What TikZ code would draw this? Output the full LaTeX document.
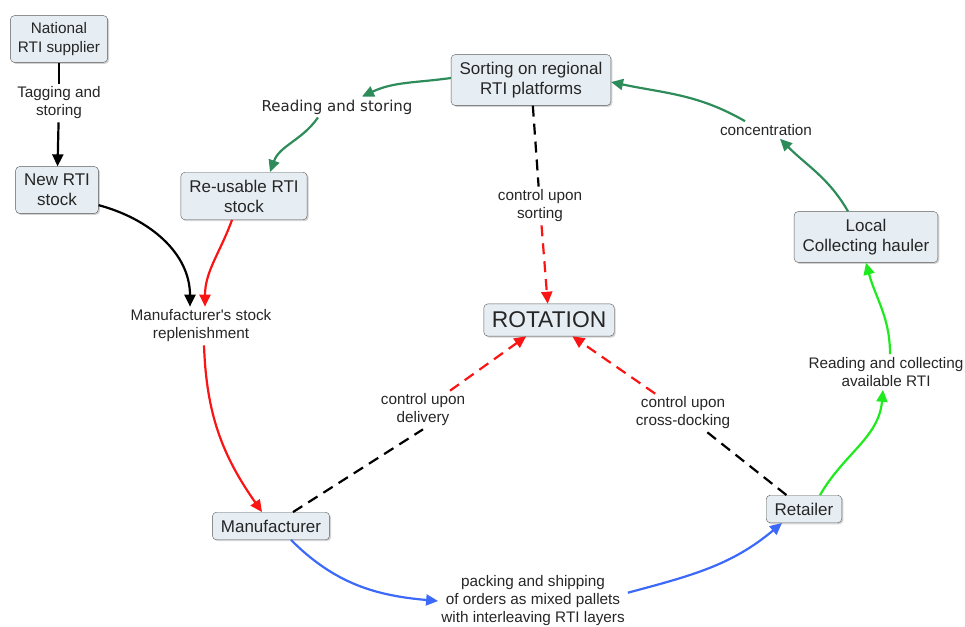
\documentclass[tikz,border=0pt]{standalone}
\usepackage{fontspec}
\setmainfont{Liberation Sans}
\newfontfamily\dejavu{DejaVu Sans}
\usetikzlibrary{arrows.meta,shadows}

\definecolor{boxfill}{RGB}{231,238,243}
\definecolor{cmapgreen}{RGB}{46,140,90}
\definecolor{litegreen}{RGB}{30,235,30}
\definecolor{cmapblue}{RGB}{60,105,250}
\definecolor{cmapred}{RGB}{250,20,20}
\newcommand{\lw}{2.2pt}

\begin{document}
\begin{tikzpicture}[x=1pt, y=1pt,
    concept/.style={draw=black!65, fill=boxfill, rounded corners=4pt, align=center, inner xsep=8.5pt, inner ysep=7.5pt, text=black!85, font=\fontsize{17}{20}\selectfont, drop shadow={shadow xshift=1.5pt, shadow yshift=-1.5pt, opacity=.35}},
    phrase/.style={align=center, inner sep=3pt, text=black!85, font=\fontsize{15.3}{18}\selectfont},
    link/.style={line width=\lw, -{Triangle[length=12pt,width=11pt]}},
    plain/.style={line width=\lw},
    ctrl/.style={line width=\lw, dash pattern=on 11pt off 7pt}]
    \useasboundingbox (0,0) rectangle (965,-626);

    % Concepts
    \node[concept, font=\fontsize{15.3}{18.5}\selectfont, inner xsep=7.5pt, inner ysep=7pt] (supplier) at (59,-39) {National\\RTI supplier};
    \node[concept] (newstock) at (57,-190) {New RTI\\stock};
    \node[concept] (reusable) at (244,-196) {Re-usable RTI\\stock};
    \node[concept] (sorting) at (531,-80) {Sorting on regional\\RTI platforms};
    \node[concept] (hauler) at (866,-237) {Local\\Collecting hauler};
    \node[concept, font=\fontsize{22.8}{26}\selectfont, inner sep=8pt] (rotation) at (549,-320) {ROTATION};
    \node[concept] (retailer) at (804,-509) {Retailer};
    \node[concept] (manufacturer) at (271,-526) {Manufacturer};

    % Linking phrases
    \node[phrase] (tagging) at (59,-103) {Tagging and\\storing};
    \node[phrase, font=\dejavu\fontsize{15}{18}\selectfont] (readstore) at (337,-107) {Reading and storing};
    \node[phrase] (concentration) at (766,-130) {concentration};
    \node[phrase] (readcollect) at (886,-372) {Reading and collecting\\available RTI};
    \node[phrase] (ctrlsort) at (540,-206) {control upon\\sorting};
    \node[phrase] (ctrldeliv) at (423,-410) {control upon\\delivery};
    \node[phrase] (ctrlcross) at (683,-413) {control upon\\cross-docking};
    \node[phrase] (replen) at (201,-326) {Manufacturer\textquotesingle s stock\\replenishment};
    \node[phrase] (packing) at (533,-601) {packing and shipping\\of orders as mixed pallets\\with interleaving RTI layers};

    % Supply
    \draw[plain] (supplier) -- (tagging);
    \draw[link] (tagging) -- (newstock);
    \draw[link] (newstock.-20) to[out=-15, in=90] ([xshift=-11pt]replen.north);
    \draw[link, cmapred] ([xshift=-12pt]reusable.south) to[out=-110, in=90] ([xshift=4pt]replen.north);
    \draw[link, cmapred] ([xshift=3pt]replen.south) to[out=-88, in=125] ([xshift=-9pt]manufacturer.north);

    % Rotation loop
    \draw[link, cmapblue] ([xshift=20pt]manufacturer.south) to[out=-45, in=175] (packing.west);
    \draw[link, cmapblue] (packing.5) to[out=15, in=-140] ([xshift=-22pt]retailer.south);
    \draw[link, litegreen] ([xshift=16pt]retailer.north) to[out=60, in=-95] ([xshift=-3pt]readcollect.south);
    \draw[link, litegreen] ([xshift=4pt]readcollect.north) to[out=90, in=-75] (hauler.south);
    \draw[link, cmapgreen] ([xshift=-18pt]hauler.north) to[out=120, in=-45] ([xshift=14pt]concentration.south);
    \draw[link, cmapgreen] ([xshift=-21pt]concentration.north) to[out=150, in=-12] ([yshift=-2pt]sorting.east);
    \draw[link, cmapgreen] ([yshift=2pt]sorting.west) to[out=188, in=25] ([xshift=25pt]readstore.north);
    \draw[link, cmapgreen] ([xshift=-19pt]readstore.south) to[out=-125, in=70] ([xshift=26pt]reusable.north);

    % Controls
    \draw[ctrl] (sorting) -- (ctrlsort);
    \draw[ctrl, link, cmapred] (ctrlsort) -- (rotation);
    \draw[ctrl] ([xshift=22pt]manufacturer.north) -- (ctrldeliv.south);
    \draw[ctrl, link, cmapred] (ctrldeliv) -- (rotation);
    \draw[ctrl] (retailer) -- (ctrlcross);
    \draw[ctrl, link, cmapred] (ctrlcross) -- (rotation);

\end{tikzpicture}
\end{document}
